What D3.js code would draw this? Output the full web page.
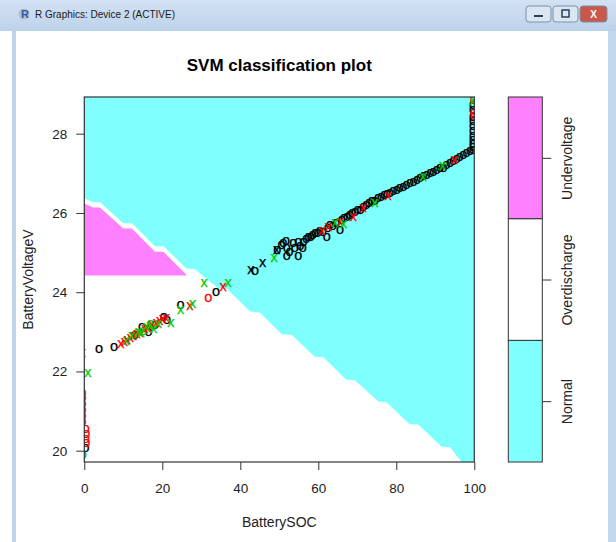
<!DOCTYPE html>
<html>
<head>
<meta charset="utf-8">
<script src="https://cdn.jsdelivr.net/npm/d3@7"></script>
<style>
  body { margin: 0; background: #fff; }
  svg { display: block; font-family: "Liberation Sans", Arial, sans-serif; }
</style>
</head>
<body>
<svg id="chart" width="616" height="542"></svg>
<script>
// axis ticks
const socTicks = [0, 20, 40, 60, 80, 100];
const voltTicks = [20, 22, 24, 26, 28];

// classes, region fills (cm.colors) and symbol colours
const classNames = ["Normal", "Overdischarge", "Undervoltage"];
const regionColors = ["#80FFFF", "#FFFFFF", "#FF80FF"];
const symbolColors = ["#000000", "#FF0000", "#00CD00"];

// decision regions as [SOC, V]
const overdischargeRegion = [
  [0, 26.37], [2.3, 26.27], [4.0, 26.27], [10.0, 25.74], [12.2, 25.74], [18.1, 25.16],
  [20.3, 25.16], [26.2, 24.6], [28.4, 24.58], [34.3, 24.1], [36.6, 24.08], [42.5, 23.51],
  [45.0, 23.49], [50.6, 22.94], [53.2, 22.92], [59.1, 22.37], [61.3, 22.36], [67.1, 21.80],
  [69.4, 21.78], [75.4, 21.24], [77.5, 21.22], [83.4, 20.67], [85.6, 20.66], [91.6, 20.10],
  [93.8, 20.09], [97.6, 19.6], [0, 19.6]
];
const undervoltageRegion = [
  [0, 26.24], [2.3, 26.14], [4.0, 26.14], [10.0, 25.61], [12.2, 25.61], [18.1, 25.02],
  [20.3, 25.02], [26.3, 24.43], [26.3, 24.42], [0, 24.42]
];

// observations: "o" = data point, "x" = support vector
const normalPoints = [
  [3.8, 22.56], [7.6, 22.62], [13.0, 22.92], [14.8, 23.13], [16.5, 23.00], [18.1, 23.17],
  [20.4, 23.38], [21.2, 23.30], [24.7, 23.68], [33.8, 24.01], [43.8, 24.53], [0.3, 20.06],
  [49.5, 25.07], [50.6, 25.18], [51.0, 25.23], [51.7, 25.28], [51.9, 25.11], [51.9, 24.90],
  [52.6, 25.02], [53.6, 25.23], [54.0, 25.11], [54.9, 24.90], [54.9, 25.27], [55.4, 25.16],
  [56.2, 25.27], [56.0, 25.12], [56.9, 25.33], [57.5, 25.38], [58.1, 25.40], [58.6, 25.45],
  [59.2, 25.48], [59.8, 25.50], [60.4, 25.54], [61.2, 25.52], [62.2, 25.40], [62.5, 25.62],
  [63.0, 25.70], [63.7, 25.68], [64.6, 25.75], [65.6, 25.57], [66.0, 25.83], [66.6, 25.87],
  [67.4, 25.90], [68.1, 25.95], [68.7, 26.00], [69.4, 26.03], [70.1, 26.06], [70.8, 26.08],
  [71.6, 26.14], [72.3, 26.19], [73.0, 26.25], [73.7, 26.29], [74.5, 26.31], [75.3, 26.37],
  [76.1, 26.40], [76.9, 26.44], [77.6, 26.47], [78.4, 26.50], [79.2, 26.54], [80.1, 26.58],
  [80.9, 26.62], [81.8, 26.66], [82.6, 26.70], [83.5, 26.75], [84.4, 26.79], [85.3, 26.83],
  [86.1, 26.88], [87.0, 26.92], [87.8, 26.96], [88.7, 27.00], [89.5, 27.04], [90.4, 27.09],
  [91.2, 27.13], [92.1, 27.12], [92.9, 27.21], [93.8, 27.26], [94.6, 27.30], [95.5, 27.37],
  [96.3, 27.42], [97.2, 27.46], [98.0, 27.50], [98.9, 27.55], [99.7, 27.59],
  [99.7, 27.66], [99.7, 27.74], [99.7, 27.83], [99.7, 27.95], [99.7, 28.06], [99.7, 28.18],
  [99.7, 28.31], [99.7, 28.43], [99.7, 28.60], [99.7, 28.72]
];
const normalSV = [[42.7, 24.56], [45.7, 24.73], [49.3, 25.07]];
const overPoints = [
  [31.8, 23.85], [0.4, 20.55], [0.5, 20.42], [0.4, 20.30], [0.5, 20.19],
  [-0.45, 21.45], [-0.45, 21.32], [-0.45, 21.18], [-0.45, 21.03], [-0.45, 20.88], [-0.45, 20.72],
  [99.9, 28.52], [99.9, 28.45], [99.9, 28.85]
];
const overSV = [
  [9.4, 22.70], [10.3, 22.74], [11.0, 22.80], [11.8, 22.83], [12.6, 22.88], [13.5, 22.94],
  [14.3, 22.98], [15.5, 23.08], [16.2, 23.10], [17.3, 23.16], [18.5, 23.22], [19.3, 23.27],
  [20.1, 23.32], [21.0, 23.35], [27.1, 23.65], [35.6, 24.14], [60.9, 25.53], [62.6, 25.65],
  [65.6, 25.78], [69.0, 25.90], [71.5, 26.12], [77.9, 26.43], [94.9, 27.34]
];
const underPoints = [[13.5, 22.98], [15.2, 23.02], [17.0, 23.20], [-0.4, 19.9]];
const underSV = [
  [10.8, 22.76], [12.2, 22.90], [13.9, 23.00], [14.6, 22.96], [15.9, 23.12], [16.9, 23.15],
  [17.8, 23.06], [19.0, 23.20], [22.2, 23.22], [24.7, 23.55], [27.8, 23.70], [30.7, 24.22],
  [36.9, 24.24], [48.7, 24.86], [64.3, 25.74], [66.5, 25.72], [74.5, 26.24], [86.9, 26.90],
  [91.9, 27.19], [99.7, 28.82], [0.9, 21.95], [-0.5, 22.46]
];

const svg = d3.select("#chart");

// ---- window frame (R Graphics device) ----
const defs = svg.append("defs");
const grad = defs.append("linearGradient").attr("id", "titlebar")
  .attr("x1", 0).attr("y1", 0).attr("x2", 0).attr("y2", 1);
grad.append("stop").attr("offset", "0%").attr("stop-color", "#d3e2f3");
grad.append("stop").attr("offset", "100%").attr("stop-color", "#bcd2ea");

svg.append("rect").attr("x", 0).attr("y", 0).attr("width", 616).attr("height", 542).attr("fill", "#ffffff");
svg.append("rect").attr("x", 0).attr("y", 0).attr("width", 616).attr("height", 31).attr("fill", "url(#titlebar)");
svg.append("rect").attr("x", 12).attr("y", 31).attr("width", 4).attr("height", 511).attr("fill", "#bfd3ea");
svg.append("rect").attr("x", 608).attr("y", 31).attr("width", 8).attr("height", 511).attr("fill", "#c3d7ed");

// R icon + caption
svg.append("circle").attr("cx", 24).attr("cy", 14).attr("r", 5.5).attr("fill", "#b8bcc4");
svg.append("text").attr("x", 25).attr("y", 18).attr("text-anchor", "middle")
  .attr("font-size", 11).attr("font-weight", "bold").attr("fill", "#1f5fb8").text("R");
svg.append("text").attr("x", 35).attr("y", 18).attr("font-size", 10).attr("fill", "#1a1a1a")
  .text("R Graphics: Device 2 (ACTIVE)");

// caption buttons
const buttons = [
  { x: 526, w: 25, fill: "#dbe6f3" },
  { x: 553, w: 25, fill: "#dbe6f3" },
  { x: 580, w: 27, fill: "#c9574a" }
];
svg.selectAll(".capbtn").data(buttons).enter().append("rect")
  .attr("class", "capbtn")
  .attr("x", d => d.x).attr("y", 6).attr("width", d => d.w).attr("height", 16).attr("rx", 3)
  .attr("fill", d => d.fill).attr("stroke", "#7d8fa8").attr("stroke-width", 1);
svg.append("rect").attr("x", 534).attr("y", 15).attr("width", 9).attr("height", 2).attr("fill", "#2b3e5c");
svg.append("rect").attr("x", 562).attr("y", 10).attr("width", 7).attr("height", 7)
  .attr("fill", "none").attr("stroke", "#2b3e5c").attr("stroke-width", 1.5);
svg.append("text").attr("x", 593.5).attr("y", 18).attr("text-anchor", "middle")
  .attr("font-size", 10).attr("font-weight", "bold").attr("fill", "#ffffff").text("X");

// ---- plot ----
const plot = { left: 84.3, right: 474.3, top: 97, bottom: 462 };

const x = d3.scaleLinear().domain([0, 100]).range([plot.left, plot.right]);
const y = d3.scaleLinear().domain([20, 28]).range([450.7, 133.7]);

svg.append("clipPath").attr("id", "plotclip").append("rect")
  .attr("x", plot.left).attr("y", plot.top)
  .attr("width", plot.right - plot.left).attr("height", plot.bottom - plot.top);

const g = svg.append("g").attr("clip-path", "url(#plotclip)");

// Normal is the background class
g.append("rect")
  .attr("x", plot.left).attr("y", plot.top)
  .attr("width", plot.right - plot.left).attr("height", plot.bottom - plot.top)
  .attr("fill", regionColors[0]);

const area = d3.line().x(d => x(d[0])).y(d => y(d[1]));
g.append("path").attr("d", area(overdischargeRegion) + "Z").attr("fill", regionColors[1]);
g.append("path").attr("d", area(undervoltageRegion) + "Z").attr("fill", regionColors[2]);

// symbols drawn as text glyphs, like pch = "o" / "x"
function drawSymbols(data, glyph, color) {
  g.append("g").selectAll("text")
    .data(data)
    .enter().append("text")
    .attr("x", d => x(d[0]))
    .attr("y", d => y(d[1]) + 3.9)
    .attr("text-anchor", "middle")
    .attr("font-size", 14.5)
    .attr("fill", color)
    .attr("stroke", color)
    .attr("stroke-width", 0.25)
    .text(glyph);
}
drawSymbols(normalPoints, "o", symbolColors[0]);
drawSymbols(overPoints, "o", symbolColors[1]);
drawSymbols(underPoints, "o", symbolColors[2]);
drawSymbols(normalSV, "x", symbolColors[0]);
drawSymbols(overSV, "x", symbolColors[1]);
drawSymbols(underSV, "x", symbolColors[2]);

// box
svg.append("rect")
  .attr("x", plot.left).attr("y", plot.top)
  .attr("width", plot.right - plot.left).attr("height", plot.bottom - plot.top)
  .attr("fill", "none").attr("stroke", "#333").attr("stroke-width", 1.2);

// axes
const xAxis = svg.append("g")
  .attr("transform", `translate(0,${plot.bottom})`)
  .call(d3.axisBottom(x).tickValues(socTicks).tickSize(8).tickPadding(13));
const yAxis = svg.append("g")
  .attr("transform", `translate(${plot.left},0)`)
  .call(d3.axisLeft(y).tickValues(voltTicks).tickSize(8).tickPadding(9));
[xAxis, yAxis].forEach(a => {
  a.select(".domain").remove();
  a.selectAll("line").attr("stroke", "#333");
  a.selectAll("text").attr("font-size", 13.5).attr("fill", "#222")
    .attr("font-family", "Liberation Sans, Arial, sans-serif");
});

// titles
svg.append("text").attr("x", (plot.left + plot.right) / 2).attr("y", 71)
  .attr("text-anchor", "middle").attr("font-size", 17).attr("font-weight", "bold")
  .text("SVM classification plot");
svg.append("text").attr("x", (plot.left + plot.right) / 2).attr("y", 527)
  .attr("text-anchor", "middle").attr("font-size", 14).attr("fill", "#222")
  .text("BatterySOC");
svg.append("text")
  .attr("transform", `translate(32.5,${(plot.top + plot.bottom) / 2}) rotate(-90)`)
  .attr("text-anchor", "middle").attr("font-size", 14).attr("fill", "#222")
  .text("BatteryVoltageV");

// ---- colour key ----
const key = { left: 508.3, right: 542.3 };
const k = d3.scaleLinear().domain([0, classNames.length]).range([plot.bottom, plot.top]);

svg.append("g").selectAll("rect")
  .data(classNames)
  .enter().append("rect")
  .attr("x", key.left).attr("width", key.right - key.left)
  .attr("y", (d, i) => k(i + 1)).attr("height", (d, i) => k(i) - k(i + 1))
  .attr("fill", (d, i) => regionColors[i])
  .attr("stroke", "#333").attr("stroke-width", 1);

const keyAxis = svg.append("g")
  .attr("transform", `translate(${key.right},0)`)
  .call(d3.axisRight(k)
    .tickValues(classNames.map((d, i) => i + 0.5))
    .tickFormat((d, i) => classNames[i])
    .tickSize(9));
keyAxis.select(".domain").remove();
keyAxis.selectAll("line").attr("stroke", "#333");
keyAxis.selectAll("text")
  .attr("x", 0).attr("dy", null).attr("y", 0)
  .attr("transform", "translate(30,0) rotate(-90)")
  .attr("text-anchor", "middle")
  .attr("font-size", 14).attr("fill", "#222")
  .attr("font-family", "Liberation Sans, Arial, sans-serif");
</script>
</body>
</html>
